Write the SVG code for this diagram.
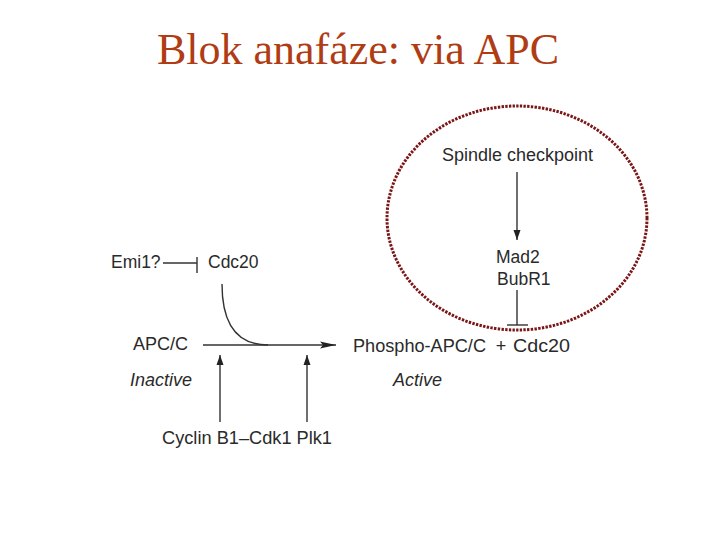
<svg xmlns="http://www.w3.org/2000/svg" width="720" height="540" viewBox="0 0 720 540">
<style>
.t{font-family:"Liberation Sans",Arial,sans-serif;font-size:17.5px;fill:#2a2a2a}
.b{font-size:18px}
.i{font-style:italic}
.ttl{font-family:"Liberation Serif","Times New Roman",serif;font-size:44px;fill:#B03C14}
.ln{stroke:#333;stroke-width:1.4;fill:none}
</style>
<defs>
<marker id="ah" viewBox="0 0 10 10" refX="10" refY="5" markerWidth="10" markerHeight="10" markerUnits="userSpaceOnUse" orient="auto">
<path d="M0,1.5 L10,5 L0,8.5 Z" fill="#222"/>
</marker>
<marker id="ahb" viewBox="0 0 16 10" refX="16" refY="5" markerWidth="18" markerHeight="10" markerUnits="userSpaceOnUse" orient="auto">
<path d="M0,1.5 L16,5 L0,8.5 L3,5 Z" fill="#222"/>
</marker>
</defs>
<rect width="720" height="540" fill="#fff"/>
<text class="ttl" x="358" y="64" text-anchor="middle">Blok anafáze: via APC</text>

<g id="checkpoint-circle">
<ellipse cx="517" cy="218" rx="130" ry="112" fill="none" stroke="#7B1616" stroke-width="3" stroke-dasharray="2.4 1.3"/>
</g>

<g id="connectors">
<line class="ln" x1="517" y1="172" x2="517" y2="240" marker-end="url(#ah)"/>
<line class="ln" x1="517" y1="290" x2="517" y2="325"/>
<line class="ln" x1="507" y1="325" x2="528" y2="325"/>
<line class="ln" x1="163" y1="263" x2="197" y2="263"/>
<line class="ln" x1="197" y1="257" x2="197" y2="273"/>
<line class="ln" x1="203" y1="345" x2="336" y2="345" marker-end="url(#ahb)"/>
<path class="ln" d="M222,284 C222,322 235,345 268,345"/>
<line class="ln" x1="220" y1="422" x2="220" y2="355" marker-end="url(#ah)"/>
<line class="ln" x1="307" y1="422" x2="307" y2="355" marker-end="url(#ah)"/>
</g>

<g id="spindle"><text class="t" x="442" y="161" textLength="151" lengthAdjust="spacingAndGlyphs">Spindle checkpoint</text></g>
<g id="mad2"><text class="t" x="496" y="263">Mad2</text><text class="t" x="497" y="285">BubR1</text></g>
<g id="emi1"><text class="t" x="111" y="268">Emi1?</text></g>
<g id="cdc20-top"><text class="t" x="208" y="268">Cdc20</text></g>
<g id="apcc"><text class="t b" x="133" y="350">APC/C</text><text class="t b i" x="130" y="386">Inactive</text></g>
<g id="phospho"><text class="t b" x="353" y="352" textLength="133" lengthAdjust="spacingAndGlyphs">Phospho-APC/C</text><text class="t b" x="501" y="352" text-anchor="middle">+</text><text class="t b" x="513" y="352" textLength="57" lengthAdjust="spacingAndGlyphs">Cdc20</text><text class="t b i" x="393" y="386">Active</text></g>
<g id="kinases"><text class="t b" x="162" y="444" textLength="170" lengthAdjust="spacingAndGlyphs">Cyclin B1–Cdk1 Plk1</text></g>
</svg>
